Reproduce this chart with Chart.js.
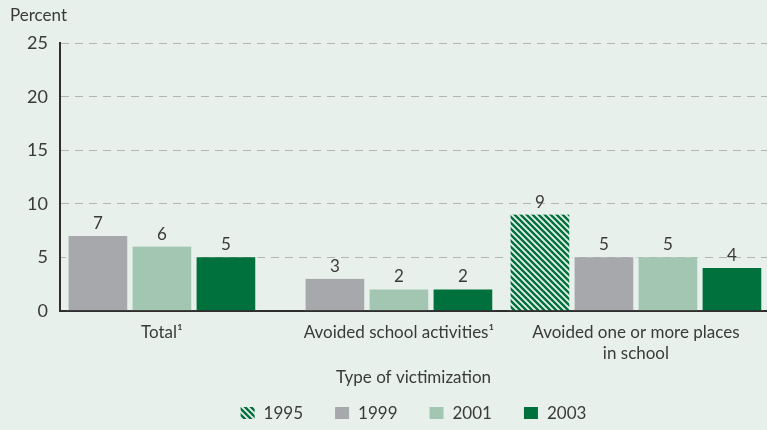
<!DOCTYPE html>
<html>
<head>
<meta charset="utf-8">
<script src="https://cdn.jsdelivr.net/npm/chart.js@4.4.1/dist/chart.umd.min.js"></script>
<style>
  html, body { margin: 0; padding: 0; background: #e7f0eb; }
  #wrap { width: 767px; height: 430px; }
</style>
</head>
<body>
<div id="wrap"><canvas id="chart"></canvas></div>
<script>
// ---- data ----
const categories = ['Total\u00b9', 'Avoided school activities\u00b9', ['Avoided one or more places', 'in school']];
const years = ['1995', '1999', '2001', '2003'];
const pct1995 = [null, null, 9];
const pct1999 = [7, 3, 5];
const pct2001 = [6, 2, 5];
const pct2003 = [5, 2, 4];
const yMax = 25;
const yStep = 5;

// ---- styles ----
const BG = '#e7f0eb';
const INK = '#3a3a3a';
const FONT = 'Lato';
const GRAY = '#a7a8ab';
const LIGHT_GREEN = '#a2c6b1';
const DARK_GREEN = '#00703c';

// diagonal stripes for the 1995 bars
function hatch(fg, bg) {
  const c = document.createElement('canvas');
  c.width = c.height = 6;
  const g = c.getContext('2d');
  g.fillStyle = bg;
  g.fillRect(0, 0, 6, 6);
  g.strokeStyle = fg;
  g.lineWidth = 2.4;
  g.beginPath();
  for (const k of [-6, 0, 6]) {
    g.moveTo(k - 1, -1);
    g.lineTo(k + 7, 7);
  }
  g.stroke();
  return g.createPattern(c, 'repeat');
}

// value printed over each bar
const barValues = {
  id: 'barValues',
  afterDatasetsDraw(chart) {
    const ctx = chart.ctx;
    ctx.save();
    ctx.font = '17px ' + FONT;
    ctx.fillStyle = INK;
    ctx.textAlign = 'center';
    ctx.textBaseline = 'alphabetic';
    chart.data.datasets.forEach((ds, di) => {
      chart.getDatasetMeta(di).data.forEach((bar, i) => {
        const v = ds.data[i];
        if (v == null) return;
        ctx.fillText(String(v), bar.x, bar.y - 7);
      });
    });
    ctx.restore();
  }
};

// legend row along the bottom
const legendRow = {
  id: 'legendRow',
  afterDraw(chart) {
    const { ctx, chartArea } = chart;
    const boxW = 14, boxH = 12, textGap = 9, itemGap = 32;
    ctx.save();
    ctx.font = '17px ' + FONT;
    const widths = chart.data.datasets.map(ds => boxW + textGap + ctx.measureText(ds.label).width);
    const total = widths.reduce((a, b) => a + b, 0) + itemGap * (widths.length - 1);
    let x = (chartArea.left + chartArea.right) / 2 - total / 2;
    const y = chart.height - 17;
    chart.data.datasets.forEach((ds, i) => {
      ctx.fillStyle = ds.backgroundColor;
      ctx.fillRect(x, y - boxH / 2, boxW, boxH);
      ctx.fillStyle = INK;
      ctx.textBaseline = 'middle';
      ctx.fillText(ds.label, x + boxW + textGap, y + 1);
      x += widths[i] + itemGap;
    });
    ctx.restore();
  }
};

const paintBg = {
  id: 'paintBg',
  beforeDraw(chart) {
    const ctx = chart.ctx;
    ctx.save();
    ctx.fillStyle = BG;
    ctx.fillRect(0, 0, chart.width, chart.height);
    ctx.restore();
  }
};

function draw() {
  const fills = [hatch(DARK_GREEN, BG), GRAY, LIGHT_GREEN, DARK_GREEN];
  const series = [pct1995, pct1999, pct2001, pct2003];

  const data = {
    labels: categories.map((c, i) => i),
    datasets: years.map((y, i) => ({
      label: y,
      data: series[i],
      backgroundColor: fills[i],
      borderColor: BG,
      borderWidth: { left: 3, right: 3, top: 0, bottom: 0 },
      borderSkipped: false,
      barThickness: 64,
      skipNull: true
    }))
  };

  const config = {
    type: 'bar',
    data: data,
    options: {
      responsive: true,
      maintainAspectRatio: false,
      animation: false,
      layout: { padding: { left: 10, right: 0, top: 0, bottom: 38 } },
      scales: {
        x: {
          type: 'linear',
          offset: false,
          min: -0.43,
          max: 2.553,
          afterBuildTicks: s => { s.ticks = categories.map((c, i) => ({ value: i })); },
          ticks: {
            callback: v => categories[v],
            font: { family: FONT, size: 17 },
            color: INK,
            padding: 12,
            autoSkip: false,
            maxRotation: 0
          },
          grid: { display: false, drawTicks: false },
          border: { display: true, color: '#2e2e2e', width: 2 },
          title: {
            display: true,
            text: 'Type of victimization',
            font: { family: FONT, size: 17 },
            color: INK,
            padding: { top: -8, bottom: 4 }
          }
        },
        y: {
          min: 0,
          max: yMax,
          afterFit: s => { s.width = 50; },
          ticks: {
            stepSize: yStep,
            font: { family: FONT, size: 18 },
            color: INK,
            padding: 12
          },
          grid: { color: '#b2b5b3', lineWidth: 1, drawTicks: false },
          border: { display: true, color: '#2e2e2e', width: 2, dash: [8, 6] }
        }
      },
      plugins: {
        legend: { display: false },
        tooltip: { enabled: false },
        title: {
          display: true,
          text: 'Percent',
          align: 'start',
          font: { family: FONT, size: 17, weight: 'normal' },
          color: INK,
          padding: { top: 5, bottom: 18 }
        }
      }
    },
    plugins: [paintBg, barValues, legendRow]
  };

  new Chart(document.getElementById('chart'), config);
}

if (document.fonts && document.fonts.load) {
  document.fonts.load('17px ' + FONT).then(draw, draw);
} else {
  draw();
}
</script>
</body>
</html>
